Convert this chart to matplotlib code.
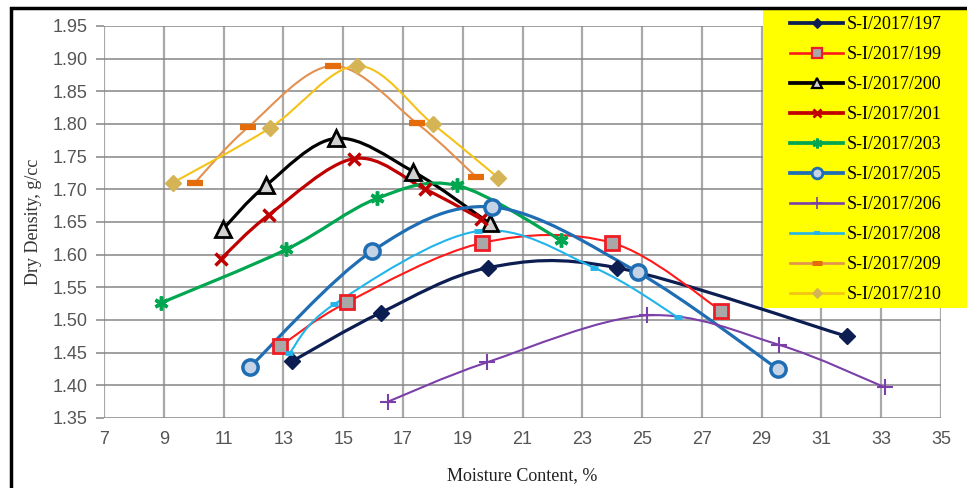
import matplotlib
matplotlib.use("Agg")
import matplotlib.pyplot as plt
import numpy as np
from matplotlib.path import Path
from matplotlib.patches import PathPatch, Rectangle
from matplotlib.lines import Line2D

# moisture content (%) and dry density (g/cc) per sample
mc_197 = [13.3, 16.25, 19.85, 24.15, 31.85]
dd_197 = [1.437, 1.511, 1.580, 1.580, 1.475]
mc_199 = [12.9, 15.13, 19.65, 24.0, 27.65]
dd_199 = [1.460, 1.527, 1.618, 1.618, 1.514]
mc_200 = [10.98, 12.42, 14.76, 17.35, 19.9]
dd_200 = [1.639, 1.706, 1.778, 1.727, 1.648]
mc_201 = [10.9, 12.52, 15.36, 17.75, 19.6]
dd_201 = [1.593, 1.661, 1.747, 1.700, 1.655]
mc_203 = [8.9, 13.1, 16.13, 18.8, 22.3]
dd_203 = [1.526, 1.608, 1.686, 1.706, 1.622]
mc_205 = [11.88, 15.96, 19.98, 24.86, 29.54]
dd_205 = [1.428, 1.605, 1.673, 1.573, 1.425]
mc_206 = [16.5, 19.8, 25.15, 29.58, 33.12]
dd_206 = [1.375, 1.435, 1.507, 1.462, 1.397]
mc_208 = [13.2, 14.7, 19.5, 23.4, 26.2]
dd_208 = [1.449, 1.524, 1.636, 1.580, 1.504]
mc_209 = [10.04, 11.82, 14.66, 17.47, 19.45]
dd_209 = [1.710, 1.795, 1.889, 1.801, 1.719]
mc_210 = [9.3, 12.55, 15.46, 18.0, 20.18]
dd_210 = [1.710, 1.794, 1.889, 1.800, 1.718]

labels = ["S-I/2017/197", "S-I/2017/199", "S-I/2017/200", "S-I/2017/201",
          "S-I/2017/203", "S-I/2017/205", "S-I/2017/206", "S-I/2017/208",
          "S-I/2017/209", "S-I/2017/210"]
xs = [mc_197, mc_199, mc_200, mc_201, mc_203, mc_205, mc_206, mc_208, mc_209, mc_210]
ys = [dd_197, dd_199, dd_200, dd_201, dd_203, dd_205, dd_206, dd_208, dd_209, dd_210]

# line colour, width, marker, size, face, edge, edge width
styles = [
    dict(color="#0c1d52", lw=2.3, marker="D", ms=8, mfc="#0c1d52", mec="#0c1d52", mew=1),
    dict(color="#ff1a1a", lw=1.5, marker="s", ms=10, mfc="#a8a8a8", mec="#ee1c25", mew=2),
    dict(color="#000000", lw=2.3, marker="^", ms=11, mfc="#d0d0d0", mec="#000000", mew=2),
    dict(color="#c00000", lw=2.3, marker="x", ms=9, mfc="#c00000", mec="#c00000", mew=2.5),
    dict(color="#00a650", lw=2.3, marker=(6, 2, 0), ms=10, mfc="#00a650", mec="#00a650", mew=2.5),
    dict(color="#1f6db3", lw=2.3, marker="o", ms=11, mfc="#c5d3e6", mec="#1f6db3", mew=2.5),
    dict(color="#7a3fa8", lw=1.5, marker="+", ms=12, mfc="#7a3fa8", mec="#7a3fa8", mew=1.5),
    dict(color="#22b4ea", lw=1.5, marker="_", ms=6, mfc="#22b4ea", mec="#22b4ea", mew=3.5),
    dict(color="#e39050", lw=1.5, marker="_", ms=11, mfc="#e46c0a", mec="#e46c0a", mew=4.5),
    dict(color="#f5c218", lw=1.5, marker="D", ms=8, mfc="#d4b455", mec="#d4b455", mew=1),
]


def smooth_path(x, y):
    # Catmull-Rom style cubic Bezier through the points (Excel "smoothed line")
    pts = np.column_stack([x, y])
    n = len(pts)
    verts = [pts[0]]
    codes = [Path.MOVETO]
    for i in range(n - 1):
        p0 = pts[i - 1] if i > 0 else pts[i]
        p1 = pts[i]
        p2 = pts[i + 1]
        p3 = pts[i + 2] if i + 2 < n else pts[i + 1]
        verts += [p1 + (p2 - p0) / 6, p2 - (p3 - p1) / 6, p2]
        codes += [Path.CURVE4] * 3
    return Path(verts, codes)


W, H = 967, 488
fig = plt.figure(figsize=(W / 100, H / 100), dpi=100)
ax = fig.add_axes([104 / W, 1 - 418 / H, 837 / W, 392 / H])

ax.set_xlim(7, 35)
ax.set_ylim(1.35, 1.95)
ax.set_xticks(np.arange(7, 36, 2))
ax.set_yticks(np.arange(1.35, 1.951, 0.05))
ax.set_yticklabels([f"{v:.2f}" for v in np.arange(1.35, 1.951, 0.05)])
for s in ax.spines.values():
    s.set_visible(False)
ax.grid(axis="x", color="#a9a9a9", lw=1.6)
ax.grid(axis="y", color="#868686", lw=1.1)
ax.tick_params(axis="x", length=0, pad=9, labelsize=13, labelcolor="#555555")
ax.tick_params(axis="y", length=6, width=1.1, color="#868686", pad=6,
               labelsize=13, labelcolor="#555555")
for t in ax.get_xticklabels() + ax.get_yticklabels():
    t.set_fontfamily("Liberation Sans")

handles = []
for x, y, st, lab in zip(xs, ys, styles, labels):
    ax.add_patch(PathPatch(smooth_path(x, y), fill=False, edgecolor=st["color"],
                           lw=st["lw"], zorder=3, capstyle="round", joinstyle="round"))
    ax.plot(x, y, ls="none", marker=st["marker"], ms=st["ms"], mfc=st["mfc"],
            mec=st["mec"], mew=st["mew"], zorder=4)
    handles.append(Line2D([], [], color=st["color"], lw=st["lw"] + 0.4,
                          marker=st["marker"], ms=st["ms"] * 0.7, mfc=st["mfc"],
                          mec=st["mec"], mew=st["mew"] * 0.8))

ax.set_xlabel("Moisture Content, %", family="Liberation Serif", fontsize=13,
              color="#222222", labelpad=14)
fig.text(34 / W, 1 - 222 / H, "Dry Density, g/cc", rotation=90, ha="center",
         va="center", family="Liberation Serif", fontsize=13, color="#333333")

# yellow legend panel over the upper right corner
fig.patches.append(Rectangle((763 / W, 1 - 308 / H), (W - 763) / W, 298 / H,
                             transform=fig.transFigure, facecolor="#ffff00",
                             edgecolor="none", zorder=1))
fig.legend(handles, labels, loc="upper left", bbox_to_anchor=(790 / W, 1 - 16 / H),
           bbox_transform=fig.transFigure, frameon=False, borderpad=0,
           borderaxespad=0, handlelength=2.95, handletextpad=0.2,
           labelspacing=0.72, prop=dict(family="Liberation Serif", size=13))

# black frame around the figure
fig.patches.append(Rectangle((11 / W, -0.1), 1.2, 1.1 - 8 / H,
                             transform=fig.transFigure, facecolor="none",
                             edgecolor="black", lw=2.5, zorder=6))

fig.savefig("out.png", dpi=100)
